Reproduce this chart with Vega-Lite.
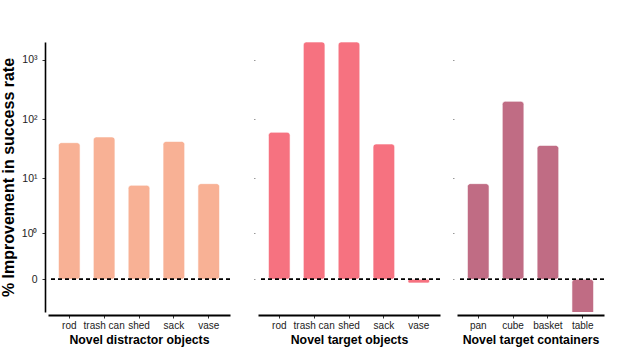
{
  "$schema": "https://vega.github.io/schema/vega-lite/v6.json",
  "padding": {"left": 0, "top": 42, "right": 5, "bottom": 2},
  "autosize": {"type": "pad"},
  "config": {
    "font": "Liberation Sans",
    "view": {"stroke": null},
    "axis": {"grid": false}
  },
  "datasets": {
    "distractor": [
      {"object": "rod", "value": 40},
      {"object": "trash can", "value": 50},
      {"object": "shed", "value": 7.5},
      {"object": "sack", "value": 42},
      {"object": "vase", "value": 8}
    ],
    "target": [
      {"object": "rod", "value": 60},
      {"object": "trash can", "value": 2000},
      {"object": "shed", "value": 2000},
      {"object": "sack", "value": 38},
      {"object": "vase", "value": -0.03}
    ],
    "containers": [
      {"object": "pan", "value": 8},
      {"object": "cube", "value": 200},
      {"object": "basket", "value": 36},
      {"object": "table", "value": -1}
    ]
  },
  "spacing": 11,
  "resolve": {"scale": {"x": "independent"}},
  "hconcat": [
    {
      "data": {"name": "distractor"},
      "width": 182,
      "height": 270,
      "layer": [
        {
          "mark": {"type": "bar", "cornerRadius": 3, "clip": true, "color": "#F8B195", "stroke": "white", "strokeOpacity": 0.6, "strokeWidth": 1},
          "encoding": {
            "x": {"field": "object", "type": "nominal", "sort": null,
              "scale": {"paddingInner": 0.38, "paddingOuter": 0.3},
              "axis": {"title": "Novel distractor objects", "titleFontSize": 12.3, "titleFontWeight": "bold", "titleColor": "black", "titlePadding": 3,
                "labelAngle": 0, "labelFontSize": 10, "labelColor": "#222", "labelPadding": 2,
                "domainColor": "black", "domainWidth": 2, "offset": 3, "tickSize": 3, "tickColor": "#333"}},
            "y": {"field": "value", "type": "quantitative",
              "scale": {"type": "symlog", "constant": 0.2, "domain": [-0.51, 2000], "nice": false, "zero": false},
              "axis": {"values": [0, 1, 10, 100, 1000],
                "labelExpr": "datum.value == 0 ? '0' : datum.value == 1 ? '10⁰' : datum.value == 10 ? '10¹' : datum.value == 100 ? '10²' : '10³'",
                "title": "% Improvement in success rate", "titleFontSize": 16, "titleFontWeight": "bold", "titleColor": "black", "titlePadding": 5,
                "labelFontSize": 10.5, "labelColor": "#222", "labelPadding": 5,
                "domainColor": "black", "domainWidth": 1.6, "offset": 3, "tickSize": 3, "tickColor": "#333"}},
            "y2": {"datum": 0}
          }
        },
        {
          "mark": {"type": "rule", "strokeDash": [4, 3], "strokeWidth": 1.3, "color": "black"},
          "encoding": {"y": {"datum": 0}}
        }
      ]
    },
    {
      "data": {"name": "target"},
      "width": 182,
      "height": 270,
      "layer": [
        {
          "mark": {"type": "bar", "cornerRadius": 3, "clip": true, "color": "#F67280", "stroke": "white", "strokeOpacity": 0.6, "strokeWidth": 1},
          "encoding": {
            "x": {"field": "object", "type": "nominal", "sort": null,
              "scale": {"paddingInner": 0.38, "paddingOuter": 0.3},
              "axis": {"title": "Novel target objects", "titleFontSize": 12.3, "titleFontWeight": "bold", "titleColor": "black", "titlePadding": 3,
                "labelAngle": 0, "labelFontSize": 10, "labelColor": "#222", "labelPadding": 2,
                "domainColor": "black", "domainWidth": 2, "offset": 3, "tickSize": 3, "tickColor": "#333"}},
            "y": {"field": "value", "type": "quantitative",
              "scale": {"type": "symlog", "constant": 0.2, "domain": [-0.51, 2000], "nice": false, "zero": false},
              "axis": {"values": [0, 1, 10, 100, 1000], "labels": false, "domain": false, "title": null,
                "tickSize": 1.5, "tickColor": "#999", "offset": 3, "minExtent": 13}},
            "y2": {"datum": 0}
          }
        },
        {
          "mark": {"type": "rule", "strokeDash": [4, 3], "strokeWidth": 1.3, "color": "black"},
          "encoding": {"y": {"datum": 0}}
        }
      ]
    },
    {
      "data": {"name": "containers"},
      "width": 147,
      "height": 270,
      "layer": [
        {
          "mark": {"type": "bar", "cornerRadius": 3, "clip": true, "color": "#C06C84", "stroke": "white", "strokeOpacity": 0.6, "strokeWidth": 1},
          "encoding": {
            "x": {"field": "object", "type": "nominal", "sort": null,
              "scale": {"paddingInner": 0.38, "paddingOuter": 0.3},
              "axis": {"title": "Novel target containers", "titleFontSize": 12.3, "titleFontWeight": "bold", "titleColor": "black", "titlePadding": 3,
                "labelAngle": 0, "labelFontSize": 10, "labelColor": "#222", "labelPadding": 2,
                "domainColor": "black", "domainWidth": 2, "offset": 3, "tickSize": 3, "tickColor": "#333"}},
            "y": {"field": "value", "type": "quantitative",
              "scale": {"type": "symlog", "constant": 0.2, "domain": [-0.51, 2000], "nice": false, "zero": false},
              "axis": {"values": [0, 1, 10, 100, 1000], "labels": false, "domain": false, "title": null,
                "tickSize": 1.5, "tickColor": "#999", "offset": 3}},
            "y2": {"datum": 0}
          }
        },
        {
          "mark": {"type": "rule", "strokeDash": [4, 3], "strokeWidth": 1.3, "color": "black"},
          "encoding": {"y": {"datum": 0}}
        }
      ]
    }
  ]
}
